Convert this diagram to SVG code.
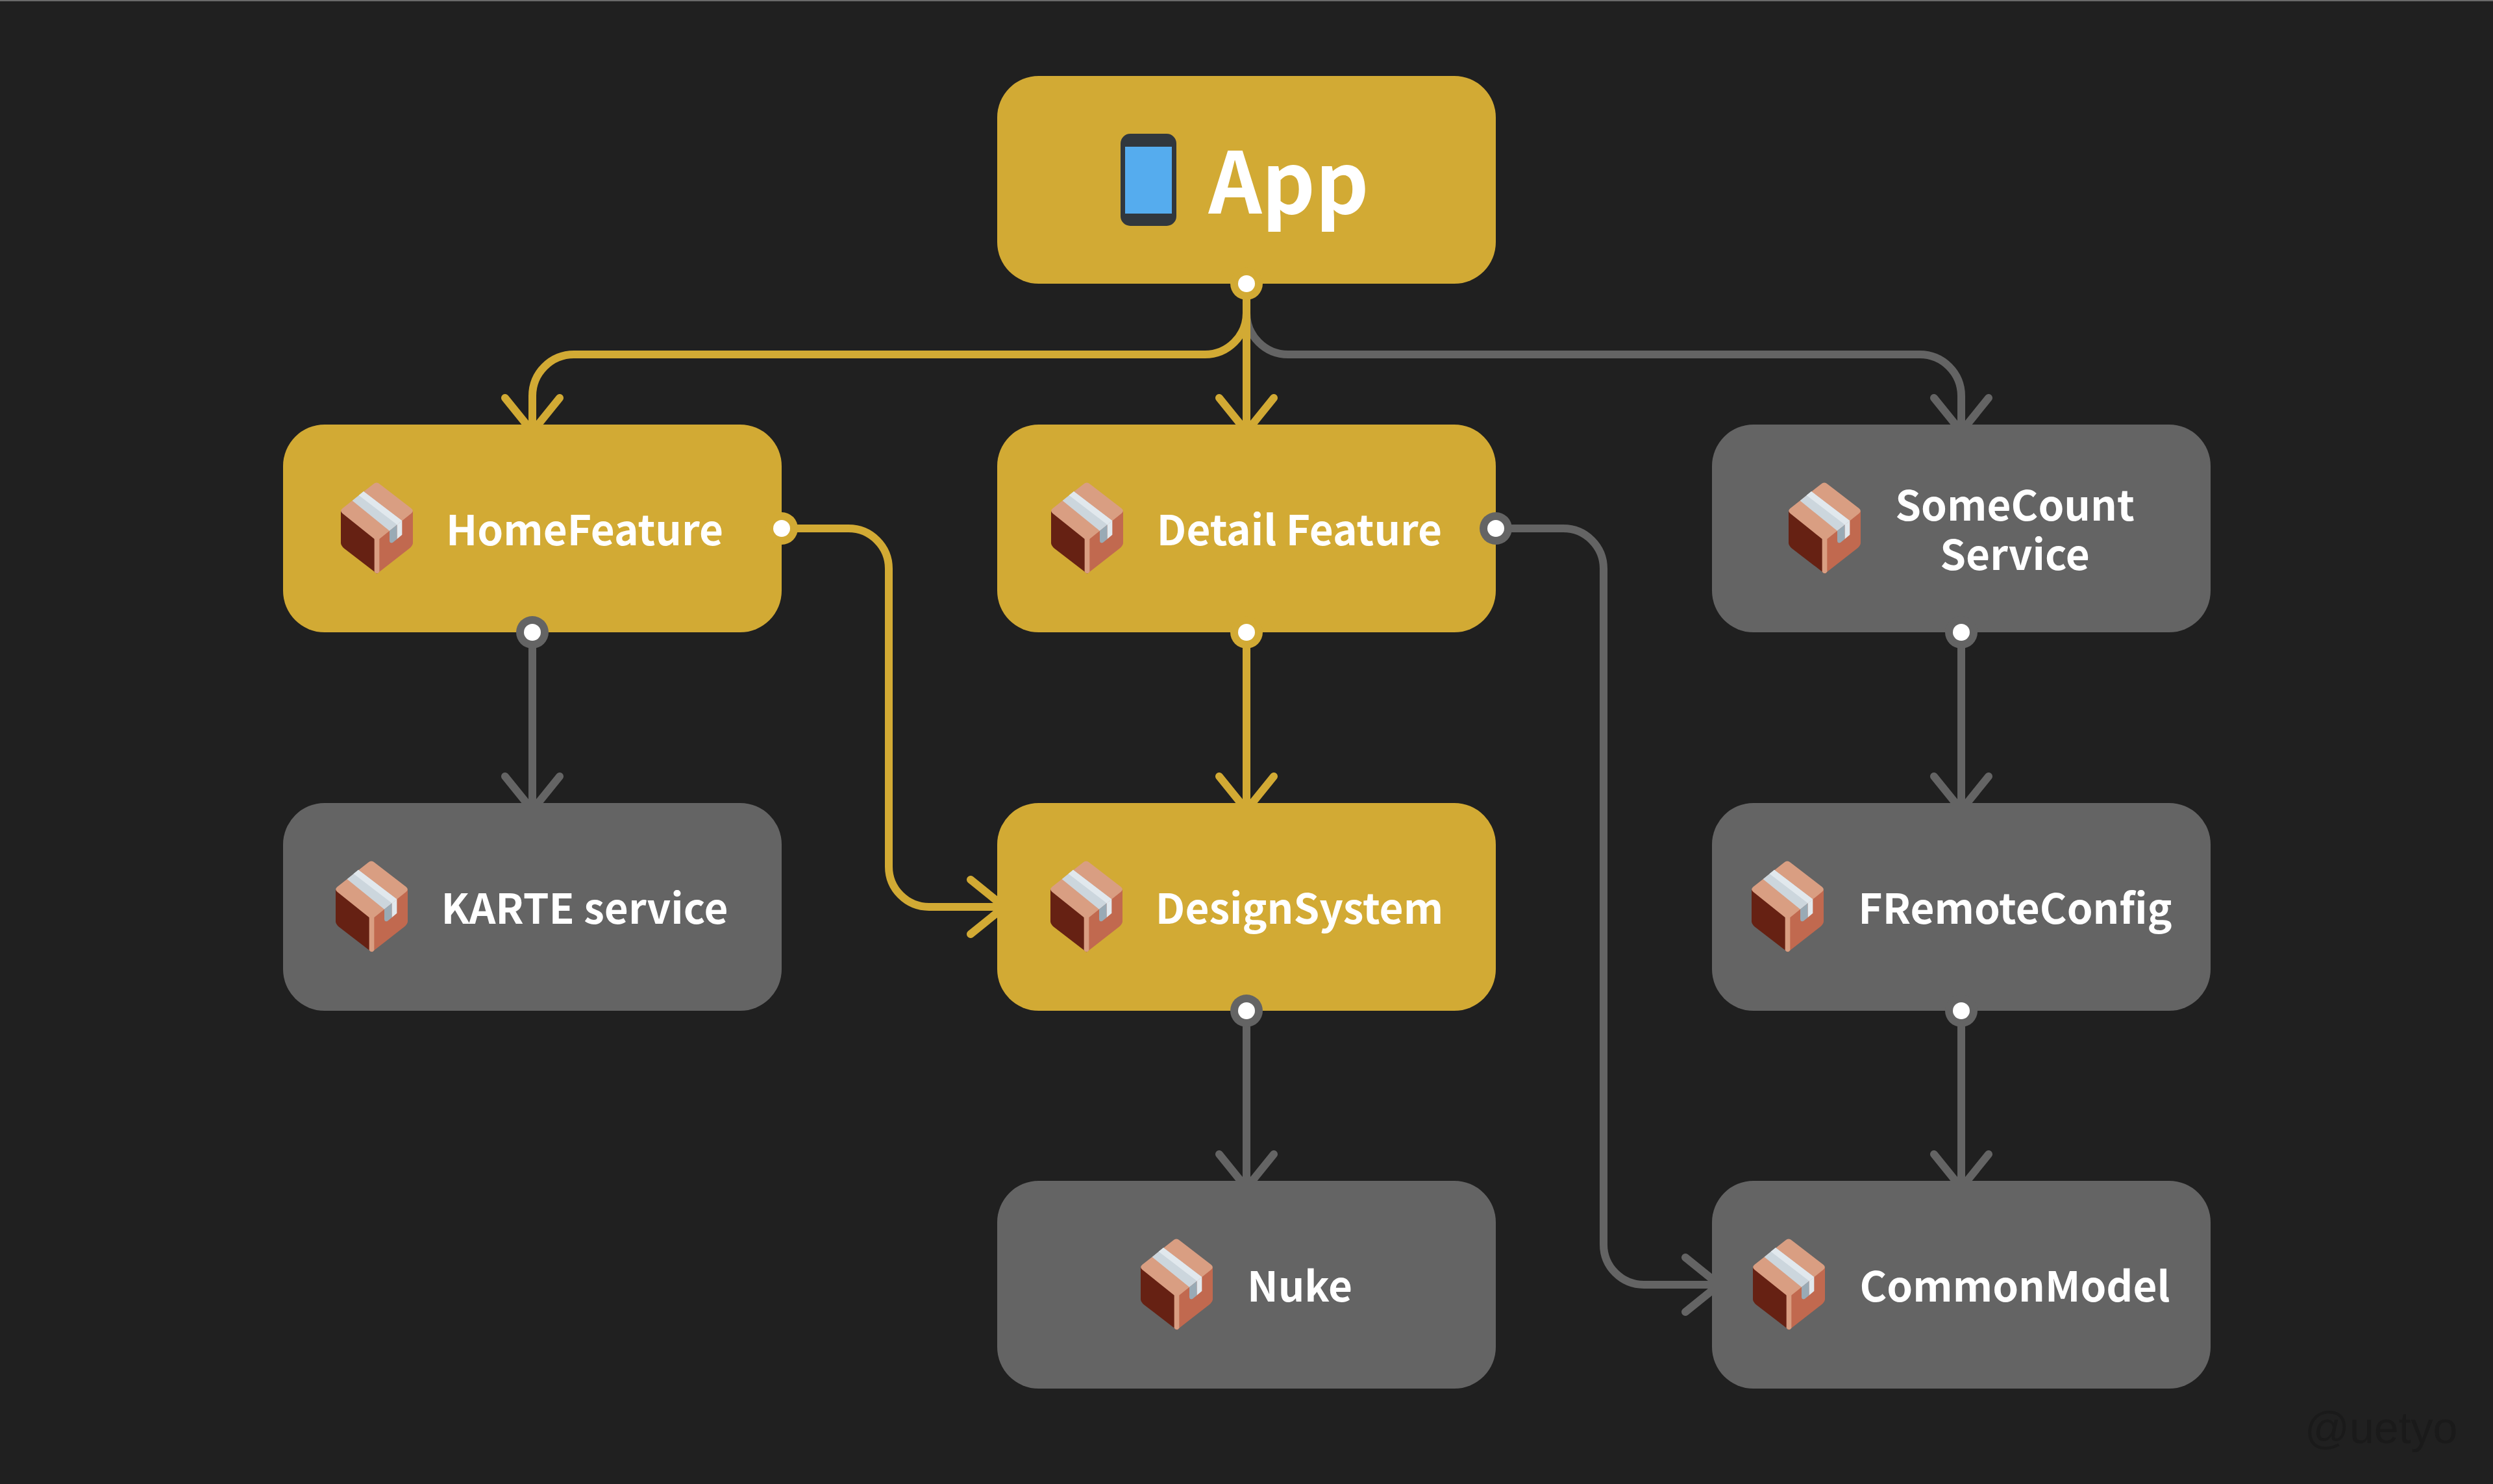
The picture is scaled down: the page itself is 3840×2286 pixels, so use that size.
<svg xmlns="http://www.w3.org/2000/svg" xmlns:xlink="http://www.w3.org/1999/xlink" width="3840" height="2286" viewBox="0 0 3840 2286">
<style>
.bg{fill:#202020}
.g{fill:#d2aa34}
.s{fill:#646464}
.lg,.ls{fill:none;stroke-width:12;stroke-linecap:round;stroke-linejoin:round}
.lg{stroke:#d2aa34}
.ls{stroke:#646464}
.w{fill:#fff}
text{font-family:"Noto Sans CJK JP","Noto Sans",sans-serif;font-weight:700;fill:#fff;text-anchor:middle;font-size:63.8px}
.wm{font-family:"Liberation Sans",Arial,sans-serif;font-weight:400;fill:#1a1a1a;font-size:68px;text-anchor:start}
</style>
<defs>
<symbol id="box" viewBox="135 130 333 423" width="111" height="141">
<path fill="#662113" d="M135 262L290 385L302 552L150 435Q135 423 135 410Z"/>
<path fill="#c1694f" d="M468 262L302 392L302 552L452 435Q468 423 468 410Z"/>
<path fill="#d99e82" d="M290 385H313V543Q302 558 290 543Z"/>
<path fill="#d99e82" d="M285 138Q300 125 315 138L460 250Q475 262 460 274L313 392H290L143 274Q128 262 143 250Z"/>
<path fill="#ccd6dd" d="M240 172L418 308L360 354L188 215Z"/>
<path fill="#e1e8ed" d="M240 172L418 308L395 326L218 190Z"/>
<path fill="#99aab5" d="M360 354L395 326V392L375 408Q360 415 360 398Z"/>
<path fill="#e1e8ed" d="M395 326L418 308V372L395 392Z"/>
</symbol>
</defs>
<rect class="bg" width="3840" height="2286"/>
<rect x="0" y="0" width="3840" height="2" fill="#6a6a6a"/>
<g id="connectors">
<path class="ls" d="M1920 437V482A64 64 0 0 0 1984 546H2957A64 64 0 0 1 3021 610V665M2979 613L3021 665L3063 613"/>
<path class="lg" d="M1920 437V482A64 64 0 0 1 1856 546H884A64 64 0 0 0 820 610V665M778 613L820 665L862 613"/>
<path class="lg" d="M1920 437V665M1878 613L1920 665L1962 613"/>
<path class="lg" d="M1204 814H1307A62 62 0 0 1 1369 876V1335A62 62 0 0 0 1431 1397H1547M1495 1355L1547 1397L1495 1439"/>
<path class="ls" d="M2304 814H2408A62 62 0 0 1 2470 876V1917A62 62 0 0 0 2532 1979H2648M2596 1937L2648 1979L2596 2021"/>
<path class="ls" d="M820 974V1248M778 1196L820 1248L862 1196"/>
<path class="lg" d="M1920 974V1248M1878 1196L1920 1248L1962 1196"/>
<path class="ls" d="M3021 974V1248M2979 1196L3021 1248L3063 1196"/>
<path class="ls" d="M1920 1557V1830M1878 1778L1920 1830L1962 1778"/>
<path class="ls" d="M3021 1557V1830M2979 1778L3021 1830L3063 1778"/>
</g>
<g id="node-app"><rect class="g" x="1536" y="117" width="768" height="320" rx="64"/>
<rect x="1726" y="206" width="86" height="142" rx="15" fill="#31373d"/><rect x="1733" y="226" width="72" height="103" fill="#55acee"/>
<text x="1985" y="329" style="font-size:131px" textLength="247" lengthAdjust="spacingAndGlyphs">App</text></g>
<g id="node-home"><rect class="g" x="436" y="654" width="768" height="320" rx="64"/><use xlink:href="#box" href="#box" x="525" y="743"/><text x="900.500" y="840">HomeFeature</text></g>
<g id="node-detail"><rect class="g" x="1536" y="654" width="768" height="320" rx="64"/><use xlink:href="#box" href="#box" x="1619" y="743"/><text x="2001.500" y="840">Detail Feature</text></g>
<g id="node-somecount"><rect class="s" x="2637" y="654" width="768" height="320" rx="64"/><use xlink:href="#box" href="#box" x="2755" y="743"/><text x="3103.500" y="802">SomeCount<tspan x="3103.500" dy="76">Service</tspan></text></g>
<g id="node-karte"><rect class="s" x="436" y="1237" width="768" height="320" rx="64"/><use xlink:href="#box" href="#box" x="517" y="1326"/><text x="900.500" y="1423">KARTE service</text></g>
<g id="node-design"><rect class="g" x="1536" y="1237" width="768" height="320" rx="64"/><use xlink:href="#box" href="#box" x="1618" y="1326"/><text x="2001.500" y="1423">DesignSystem</text></g>
<g id="node-fremote"><rect class="s" x="2637" y="1237" width="768" height="320" rx="64"/><use xlink:href="#box" href="#box" x="2698" y="1326"/><text x="3104" y="1423">FRemoteConfig</text></g>
<g id="node-nuke"><rect class="s" x="1536" y="1819" width="768" height="320" rx="64"/><use xlink:href="#box" href="#box" x="1757" y="1908"/><text x="2002" y="2005">Nuke</text></g>
<g id="node-common"><rect class="s" x="2637" y="1819" width="768" height="320" rx="64"/><use xlink:href="#box" href="#box" x="2700" y="1908"/><text x="3103.500" y="2005">CommonModel</text></g>
<g id="ports">
<circle class="g" cx="1920" cy="437" r="25"/><circle class="w" cx="1920" cy="437" r="13"/>
<circle class="g" cx="1204" cy="814" r="25"/><circle class="w" cx="1204" cy="814" r="13"/>
<circle class="s" cx="820" cy="974" r="25"/><circle class="w" cx="820" cy="974" r="13"/>
<circle class="s" cx="2304" cy="814" r="25"/><circle class="w" cx="2304" cy="814" r="13"/>
<circle class="g" cx="1920" cy="974" r="25"/><circle class="w" cx="1920" cy="974" r="13"/>
<circle class="s" cx="3021" cy="974" r="25"/><circle class="w" cx="3021" cy="974" r="13"/>
<circle class="s" cx="1920" cy="1557" r="25"/><circle class="w" cx="1920" cy="1557" r="13"/>
<circle class="s" cx="3021" cy="1557" r="25"/><circle class="w" cx="3021" cy="1557" r="13"/>
</g>
<text class="wm" x="3550" y="2223">@uetyo</text>
</svg>
